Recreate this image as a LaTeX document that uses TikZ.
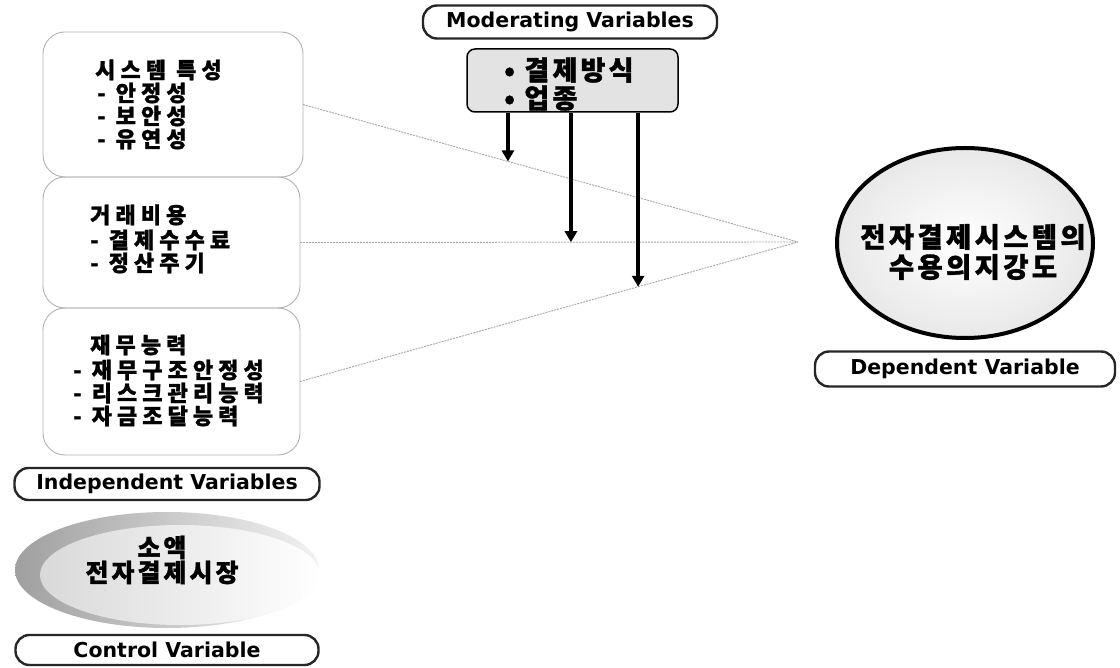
\documentclass[tikz,border=0pt]{standalone}
\usepackage{fontspec}
\usetikzlibrary{arrows.meta,calc,shapes.geometric}
\newfontfamily\kr[LetterSpace=23, BoldFeatures={FakeBold=1.2}]{Noto Sans CJK KR}
\newfontfamily\krw[LetterSpace=12, BoldFeatures={FakeBold=1.2}]{Noto Sans CJK KR}
\newfontfamily\labfont{DejaVu Sans}
\begin{document}
\begin{tikzpicture}[x=1pt,y=-1pt,
  vbox/.style={draw=gray!60, line width=0.9pt, rounded corners=22pt, rectangle, outer sep=0pt, inner sep=0pt},
  vlabel/.style={draw=black!85, line width=2.4pt, rounded corners=14pt, rectangle, inner sep=0pt,
     font=\labfont\bfseries\fontsize{20.5}{22}\selectfont},
  ktext/.style={anchor=west, inner sep=0pt, font=\kr\bfseries\fontsize{22}{24}\selectfont},
  dashline/.style={draw=gray!70, line width=0.9pt, dash pattern=on 2pt off 1pt},
  modarrow/.style={draw=black, line width=3.6pt, -{Triangle[length=11pt,width=12pt]}}
]
\useasboundingbox (0,0) rectangle (1120,668);

% independent variable boxes
\node[vbox, minimum width=260, minimum height=145] (b1) at (173,104.5) {};
\node[vbox, minimum width=257, minimum height=131] (b2) at (171.5,242.5) {};
\node[vbox, minimum width=257, minimum height=147] (b3) at (171.5,381.5) {};

\node[ktext] (b1t) at (95,70) {시스템 특성};
\node[ktext] (b1a) at (97,93) {- 안정성};
\node[ktext] (b1b) at (97,116) {- 보안성};
\node[ktext] (b1c) at (97,139) {- 유연성};

\node[ktext] (b2t) at (90,215) {거래비용};
\node[ktext] (b2a) at (90,240) {- 결제수수료};
\node[ktext] (b2b) at (90,263) {- 정산주기};

\node[ktext] (b3t) at (90,345) {재무능력};
\node[ktext] (b3a) at (73,370) {- 재무구조안정성};
\node[ktext] (b3b) at (73,393) {- 리스크관리능력};
\node[ktext] (b3c) at (73,416) {- 자금조달능력};

\node[vlabel, minimum width=305, minimum height=32] (indlab) at (167,484) {Independent Variables};

% moderating
\node[vlabel, minimum width=294, minimum height=33] (modlab) at (570,22) {Moderating Variables};
\node[rectangle, draw=black, line width=1.5pt, fill=gray!22, rounded corners=8pt,
      minimum width=211, minimum height=63, inner sep=0pt] (mod) at (572.5,80.5) {};
\node[ktext, font=\krw\bfseries\fontsize{27}{27}\selectfont] (m1) at (504,70) {• 결제방식};
\node[ktext, font=\krw\bfseries\fontsize{27}{27}\selectfont] (m2) at (504,98) {• 업종};

% dependent
\node[ellipse, draw=black, line width=4pt, inner color=white, outer color=gray!18,
      minimum width=256, minimum height=190] (dep) at (965,243) {};
\node[align=center, inner sep=0pt, font=\krw\bfseries\fontsize{27.5}{30}\selectfont] (deptext) at (973,252) {전자결제시스템의\\수용의지강도};
\node[vlabel, minimum width=300, minimum height=35] (deplab) at (965,369) {Dependent Variable};

% convergence lines
\coordinate (conv) at (798,242);
\draw[dashline] (b1.east) -- (conv);
\draw[dashline] (b2.east) -- (conv);
\draw[dashline] (b3.east) -- (conv);

\coordinate (t1) at ($(b1.east)!0.414!(conv)$);
\coordinate (t2) at ($(b2.east)!0.544!(conv)$);
\coordinate (t3) at ($(b3.east)!0.679!(conv)$);
\draw[modarrow] (mod.south -| t1) -- (t1);
\draw[modarrow] (mod.south -| t2) -- (t2);
\draw[modarrow] (mod.south -| t3) -- (t3);

% control
\node[ellipse, left color=gray!75, right color=gray!10, minimum width=304, minimum height=116] (ctrl) at (167,570) {};
\node[ellipse, left color=gray!30, right color=white, minimum width=280, minimum height=100] (ctrlin) at (180,575) {};
\node[align=center, inner sep=0pt, font=\krw\bfseries\fontsize{25}{25}\selectfont] (ctrltext) at (162,560) {소액\\전자결제시장};
\node[vlabel, minimum width=303, minimum height=30] (ctrllab) at (167,650) {Control Variable};
\end{tikzpicture}
\end{document}
